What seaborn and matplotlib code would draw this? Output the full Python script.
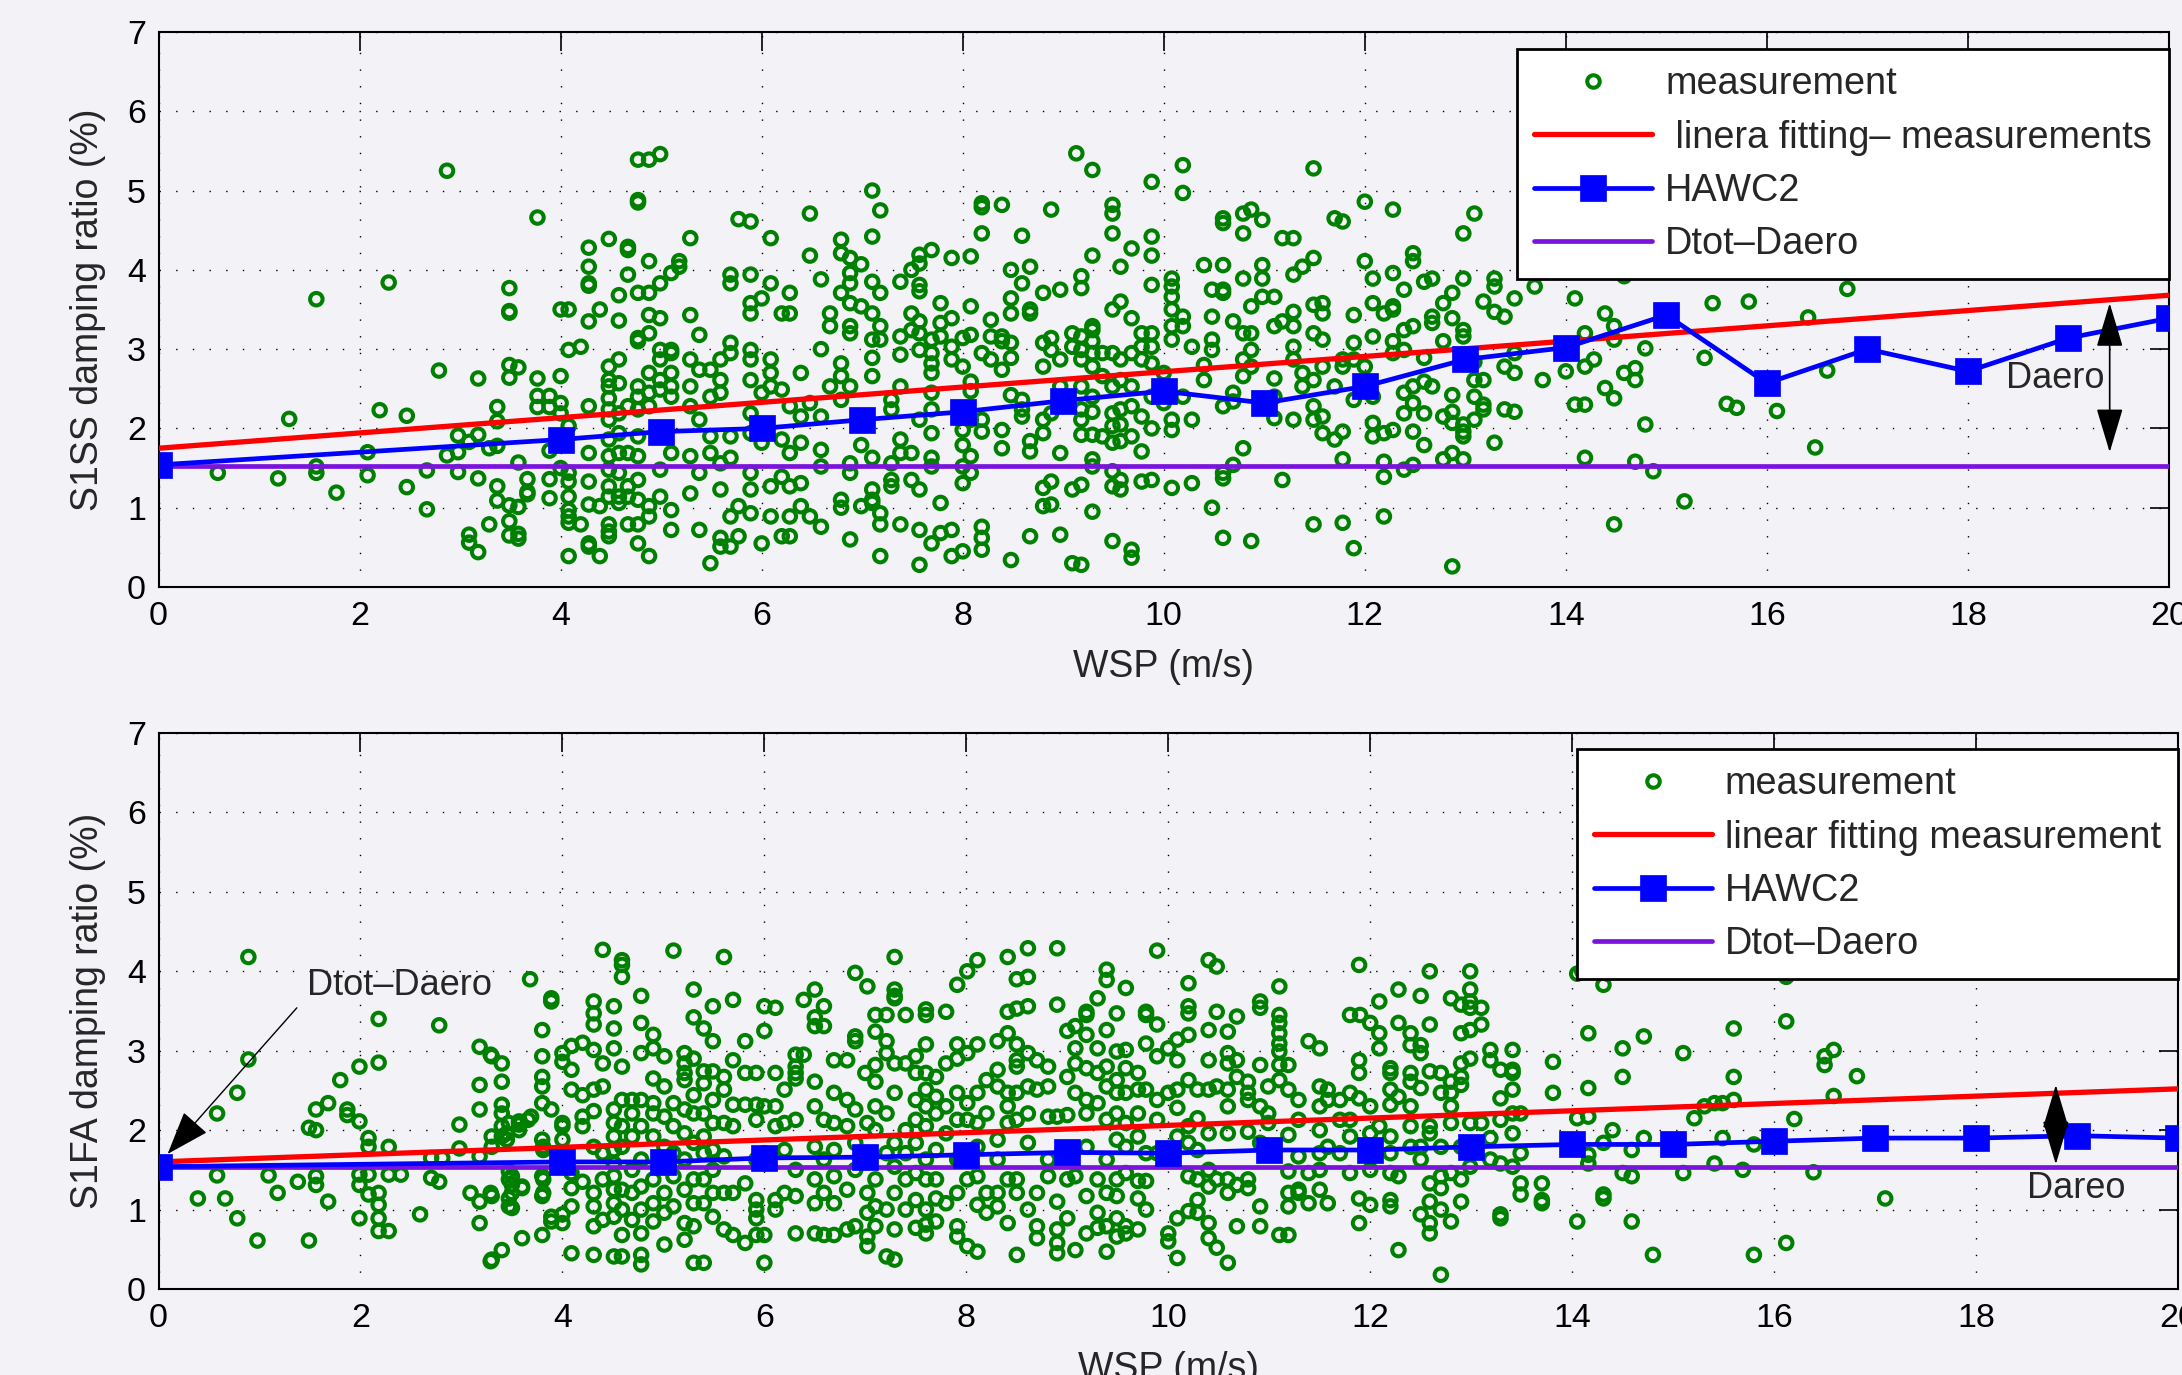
import numpy as np
import pandas as pd
import matplotlib
matplotlib.use("Agg")
import matplotlib.pyplot as plt
from matplotlib.lines import Line2D
import seaborn as sns

# ---------------- data: S1SS (top) measurement, grouped by wind-speed column ----------------
ss_wsp_a = [0.59, 1.19, 1.30, 1.57, 1.77, 2.08, 2.20, 2.29, 2.47, 2.67, 2.79, 2.87, 2.98, 3.09,
            3.18, 3.29, 3.37, 3.49, 3.58, 3.67, 3.77, 3.89]
ss_dmp_a = [[1.44], [1.37], [2.12], [3.63, 1.52, 1.44], [1.19], [1.70, 1.41], [2.23], [3.84],
            [2.16, 1.26], [1.47, 0.98], [2.73], [5.25, 1.66], [1.91, 1.70, 1.45], [1.83, 0.66, 0.56],
            [2.63, 1.92, 1.37, 0.44], [1.75, 0.79], [2.27, 2.09, 1.78, 1.27, 1.09],
            [3.77, 3.48, 3.46, 2.80, 2.64, 1.03, 0.83, 0.65], [2.77, 1.57, 1.01, 0.67, 0.61],
            [1.36, 1.20, 1.17], [4.66, 2.63, 2.41, 2.27], [2.41, 2.27, 1.72, 1.36, 1.12]]

ss_wsp_b = [4.00, 4.08, 4.20, 4.28, 4.39, 4.48, 4.58, 4.67, 4.77, 4.88, 4.99, 5.10, 5.18, 5.29,
            5.38, 5.49, 5.59, 5.69, 5.77, 5.89, 6.00, 6.09, 6.20, 6.28, 6.39, 6.48, 6.59, 6.68]
ss_dmp_b = [[3.50, 2.66, 2.32, 2.19, 1.50],
            [3.50, 2.99, 2.03, 1.44, 1.33, 1.14, 0.97, 0.89, 0.81, 0.39],
            [3.03, 0.79],
            [4.28, 4.04, 3.83, 3.80, 3.35, 2.28, 1.69, 1.33, 1.04, 0.55, 0.51],
            [3.50, 1.02, 0.39],
            [4.39, 2.78, 2.61, 2.53, 2.38, 2.24, 2.11, 1.86, 1.65, 1.48, 1.27, 1.14, 0.79, 0.70, 0.64],
            [3.68, 3.36, 2.87, 2.57, 2.19, 1.94, 1.69, 1.44, 1.14, 1.06],
            [4.29, 4.25, 3.94, 2.28, 1.69, 1.27, 1.14, 0.79],
            [5.39, 4.88, 4.85, 3.71, 3.14, 3.10, 2.53, 2.40, 2.24, 1.90, 1.65, 1.35, 1.10, 0.79, 0.55],
            [5.39, 4.11, 3.71, 3.43, 3.20, 2.70, 2.45, 2.28, 1.02, 0.89, 0.39],
            [5.46, 3.83, 3.39, 2.99, 2.87, 2.61, 2.49, 1.48, 1.14],
            [3.96, 2.99, 2.95, 2.70, 2.53, 2.40, 1.69, 0.97, 0.72],
            [4.11, 4.04],
            [4.40, 3.43, 2.87, 2.53, 2.28, 1.65, 1.18],
            [3.18, 2.74, 2.11, 1.44, 0.72],
            [2.74, 2.40, 1.90, 1.69, 0.30],
            [2.87, 2.61, 2.45, 1.56, 1.23, 0.62, 0.51],
            [3.94, 3.83, 3.08, 2.95, 1.90, 1.63, 0.89, 0.51],
            [4.64, 1.02, 0.64],
            [4.61, 3.94, 3.58, 3.45, 2.99, 2.87, 2.61, 2.19, 1.94, 1.44, 1.23, 0.93],
            [3.64, 2.45, 1.82, 0.55],
            [4.40, 3.83, 2.87, 2.70, 2.53, 1.27, 0.89],
            [3.45, 2.49, 1.86, 1.39, 0.64],
            [3.71, 3.45, 2.28, 1.69, 1.27, 0.89, 0.64],
            [2.70, 2.15, 1.82, 1.31, 1.02],
            [4.71, 4.18, 2.32, 0.89],
            [3.88, 3.00, 2.15, 1.73, 1.52, 0.76],
            [3.45, 3.29, 2.53]]

ss_wsp_c = [6.79, 6.88, 6.99, 7.10, 7.18, 7.29, 7.38, 7.49, 7.57, 7.69, 7.78, 7.89, 8.00, 8.08,
            8.19, 8.28, 8.39, 8.48, 8.59, 8.67, 8.80, 8.88, 8.97, 9.09, 9.13]
ss_dmp_c = [[4.38, 4.21, 3.71, 2.82, 2.66, 2.36, 1.10, 1.00],
            [4.15, 3.96, 3.83, 3.58, 3.29, 3.20, 2.53, 1.56, 1.44, 0.60],
            [4.07, 3.54, 2.07, 1.79, 1.02],
            [5.00, 4.42, 3.85, 3.45, 3.12, 2.89, 2.66, 1.63, 1.23, 1.10, 1.06],
            [4.75, 3.71, 3.29, 3.12, 0.93, 0.79, 0.39],
            [2.36, 2.24, 1.56, 1.35, 1.27],
            [3.85, 3.16, 2.93, 2.53, 1.86, 1.69, 0.79],
            [4.00, 3.45, 3.24, 1.69, 1.35],
            [4.19, 4.08, 3.81, 3.73, 3.35, 3.20, 2.99, 2.11, 1.23, 0.72, 0.28],
            [4.25, 3.12, 2.95, 2.82, 2.70, 2.45, 2.24, 1.94, 1.63, 1.52, 0.55],
            [3.58, 3.33, 3.16, 1.06, 0.68],
            [4.15, 3.39, 3.03, 2.87, 0.72, 0.39],
            [3.14, 2.78, 1.98, 1.79, 1.52, 1.31, 0.45],
            [4.17, 3.54, 3.18, 2.59, 2.47, 2.11, 1.65, 1.44],
            [4.84, 4.79, 4.46, 2.95, 2.11, 1.96, 0.76, 0.62, 0.47],
            [3.37, 3.16, 2.87],
            [4.82, 3.16, 3.10, 2.74, 1.98, 1.75],
            [4.00, 3.64, 3.45, 3.08, 2.89, 2.42, 0.34],
            [4.43, 3.83, 2.36, 2.24, 2.15],
            [4.04, 3.50, 3.45, 1.84, 1.71, 0.64],
            [3.71, 3.08, 2.78, 2.11, 1.94, 1.25, 1.02],
            [4.76, 3.14, 2.99, 2.19, 1.33, 1.04],
            [3.75, 2.87, 2.53, 1.69, 0.66],
            [3.20, 3.03, 1.23, 0.30],
            [5.47]]

ss_wsp_d = [9.18, 9.29, 9.39, 9.49, 9.57, 9.68, 9.78, 9.88, 10.00, 10.08, 10.19, 10.28, 10.40,
            10.48, 10.59, 10.69, 10.79, 10.87, 10.98, 11.10, 11.18, 11.29, 11.38, 11.49, 11.58]
ss_dmp_d = [[3.92, 3.77, 3.16, 2.99, 2.87, 2.53, 2.24, 2.11, 1.92, 1.29, 0.28],
            [5.26, 4.18, 3.29, 3.24, 3.10, 2.95, 2.78, 2.40, 2.21, 1.92, 1.61, 1.52, 0.95],
            [2.95, 2.66, 1.90],
            [4.82, 4.71, 4.46, 3.50, 2.95, 2.53, 2.19, 2.03, 1.82, 1.46, 1.27, 0.58],
            [4.04, 3.60, 2.87, 2.61, 2.24, 2.05, 1.84, 1.35, 1.23],
            [4.27, 3.39, 2.95, 2.53, 2.28, 1.90, 0.47, 0.37],
            [3.20, 3.03, 2.87, 2.15, 1.71, 1.33],
            [5.11, 4.42, 4.18, 3.81, 3.20, 3.03, 2.82, 2.40, 2.00, 1.35],
            [2.70, 2.32],
            [3.89, 3.79, 3.66, 3.50, 3.29, 3.12, 2.11, 1.98, 1.25],
            [5.32, 4.97, 3.41, 3.29, 2.40],
            [3.03, 2.11, 1.31],
            [4.06, 2.80, 2.61],
            [3.75, 3.41, 3.12, 2.99, 1.00],
            [4.65, 4.59, 4.06, 3.75, 3.71, 2.28, 1.44, 1.37, 0.62],
            [3.35, 2.45, 2.34, 1.54],
            [4.71, 4.46, 3.89, 3.20, 2.87, 2.66, 1.75],
            [4.76, 3.54, 3.20, 2.99, 2.78, 0.58],
            [4.63, 4.06, 3.89, 3.66],
            [3.66, 3.29, 2.63, 2.40, 2.13],
            [4.40, 3.35, 1.35],
            [4.40, 3.94, 3.47, 3.29, 3.03, 2.87, 2.11],
            [4.04, 2.70, 2.53],
            [5.28, 4.15, 3.56, 3.20, 2.61, 2.28, 2.11, 0.79],
            [3.58, 3.45, 3.12, 2.78, 2.15, 1.94]]

ss_wsp_e = [11.70, 11.78, 11.89, 12.00, 12.08, 12.19, 12.28, 12.39, 12.48, 12.59, 12.67, 12.78,
            12.87, 12.98, 13.09, 13.18, 13.29, 13.39, 13.49, 13.69, 13.77, 14.00, 14.09, 14.19,
            14.28, 14.39, 14.48, 14.58, 14.69, 14.79, 14.87, 15.18, 15.38, 15.46, 15.60, 15.70,
            15.82, 16.10, 16.41, 16.48, 16.60, 16.80]
ss_dmp_e = [[4.65, 2.53, 1.86], [4.61, 2.87, 2.78, 1.96, 1.61, 0.81], [3.43, 3.08, 2.87, 2.36, 0.49],
            [4.86, 4.11, 2.78, 2.53], [3.89, 3.58, 3.16, 2.40, 2.07, 1.90], [3.45, 1.94, 1.58, 1.39, 0.89],
            [4.76, 3.96, 3.54, 3.50, 3.10, 2.95, 1.98], [3.75, 3.24, 2.99, 2.45, 2.19, 1.48],
            [4.21, 4.11, 3.29, 2.53, 2.32, 1.96, 1.54], [3.85, 2.89, 2.59, 2.19, 1.79],
            [3.89, 3.41, 3.33, 2.53], [3.58, 3.10, 2.15, 1.61], [3.71, 3.39, 2.42, 2.21, 2.07, 1.69, 0.26],
            [4.46, 3.89, 3.24, 3.16, 2.05, 1.96, 1.90, 1.61], [4.71, 2.84, 2.61, 2.40, 2.11],
            [3.60, 2.61, 2.30, 2.24], [3.89, 3.79, 3.47, 1.82], [3.41, 2.78, 2.24], [3.64, 2.95, 2.70, 2.21],
            [3.79], [2.61], [2.72], [3.64, 2.30], [3.20, 2.78, 2.30, 1.63], [2.87], [3.45, 2.51],
            [3.29, 3.12, 2.38, 0.79], [3.92, 2.70], [2.76, 2.61, 1.58], [3.01, 2.05], [1.46], [1.08],
            [2.89], [3.58], [2.31], [2.26], [3.60], [2.22], [3.40], [1.76], [2.73], [3.76]]

# ---------------- data: S1FA (bottom) measurement ----------------
fa_wsp_a = [0.39, 0.58, 0.66, 0.78, 0.89, 0.98, 1.09, 1.18, 1.38, 1.49, 1.56, 1.68, 1.80, 1.87,
            1.99, 2.08, 2.18, 2.28, 2.40, 2.59, 2.70, 2.78, 2.81, 2.98, 3.09, 3.18, 3.29, 3.30,
            3.40, 3.45, 3.47, 3.50, 3.57, 3.60, 3.66, 3.68, 3.69, 3.80, 3.81, 3.89]
fa_dmp_a = [[1.14], [2.21, 1.43], [1.14], [2.47, 0.89], [4.18, 2.89], [0.61], [1.43], [1.21], [1.35],
            [2.03, 0.61], [2.26, 2.00, 1.42, 1.31], [2.34, 1.10], [2.63], [2.26, 2.19],
            [2.80, 2.11, 1.44, 1.31, 0.89], [1.90, 1.79, 1.44, 1.19], [3.40, 2.85, 1.21, 1.06, 0.89, 0.73],
            [1.79, 1.44, 0.73], [1.44], [0.94], [1.65, 1.40], [3.32, 1.35], [1.65], [2.07, 1.77], [1.21],
            [3.05, 2.57, 2.26, 1.67, 1.10, 0.83], [2.95, 1.21, 0.35], [2.93, 1.92, 1.79, 1.17, 0.37],
            [2.84, 2.61, 2.32, 2.21, 2.05, 1.92, 0.49], [1.96, 1.88], [2.09, 1.48, 1.38, 1.14, 1.04],
            [1.42, 1.31, 1.21, 1.02], [2.11, 2.07, 2.00], [1.29, 1.27, 0.64], [2.13], [3.90], [2.17],
            [3.26, 2.93, 2.67, 2.55, 2.34, 1.88, 1.42, 1.17, 0.68], [1.79, 1.75, 1.38, 1.21],
            [3.66, 3.62, 2.26, 0.91, 0.85]]

fa_wsp_b = [4.00, 4.09, 4.20, 4.31, 4.40, 4.51, 4.59, 4.69, 4.78, 4.90, 5.01, 5.10, 5.21, 5.30,
            5.40, 5.49, 5.60, 5.69, 5.81, 5.92, 6.00, 6.11, 6.20, 6.31, 6.39, 6.50, 6.59, 6.69, 6.82]
fa_dmp_b = [[2.97, 2.86, 2.09, 2.05, 1.88, 0.94, 0.83],
            [3.06, 2.76, 2.51, 1.46, 1.27, 1.04, 0.45],
            [3.10, 2.44, 2.17, 2.05, 1.35],
            [3.62, 3.47, 3.33, 3.01, 2.51, 2.24, 1.79, 1.21, 1.04, 0.79, 0.43],
            [4.27, 2.84, 2.55, 1.71, 1.38, 0.87],
            [3.56, 3.28, 3.03, 2.26, 2.09, 1.92, 1.75, 1.58, 1.42, 1.25, 1.08, 0.91, 0.41],
            [4.14, 4.08, 3.93, 2.80, 2.38, 2.05, 1.79, 1.25, 1.00, 0.68, 0.41],
            [2.38, 2.21, 1.92, 1.50, 1.21, 0.87],
            [3.69, 3.35, 2.97, 2.38, 2.05, 1.63, 1.29, 1.00, 0.70, 0.43, 0.31],
            [3.20, 3.03, 2.65, 2.34, 2.21, 1.92, 1.38, 1.08, 0.85],
            [2.93, 2.55, 2.17, 1.79, 1.54, 1.21, 0.96, 0.56],
            [4.26, 2.34, 2.05, 1.71, 1.42, 1.04],
            [2.97, 2.84, 2.72, 2.63, 2.26, 1.96, 1.63, 1.25, 0.83, 0.62],
            [3.77, 3.42, 2.90, 2.44, 2.21, 1.84, 1.38, 1.08, 0.79, 0.33],
            [3.28, 2.74, 2.59, 2.21, 1.92, 1.71, 1.38, 1.08, 0.33],
            [3.56, 3.12, 2.74, 2.38, 2.09, 1.75, 1.50, 1.21, 0.91],
            [4.18, 2.67, 2.51, 2.09, 1.67, 1.21, 0.75],
            [3.64, 2.88, 2.32, 2.05, 1.21, 0.68],
            [3.12, 2.72, 2.32, 1.33, 0.58],
            [2.72, 2.32, 2.13, 1.63, 1.12, 1.00, 0.89, 0.68],
            [3.56, 3.25, 2.30, 1.71, 0.68, 0.33],
            [3.54, 2.72, 2.30, 2.05, 1.12, 1.00],
            [2.51, 2.09, 1.75, 1.21],
            [2.95, 2.80, 2.72, 2.65, 2.13, 1.50, 1.17, 0.70],
            [3.64, 2.95],
            [3.77, 3.42, 3.31, 2.61, 2.30, 1.79, 1.38, 1.08, 0.70],
            [3.56, 3.31, 2.13, 1.63, 1.21, 0.68],
            [2.88, 2.47, 2.09, 1.75, 1.42, 1.08, 0.68],
            [2.88, 2.38, 2.05, 1.25, 0.75]]

fa_wsp_c = [6.90, 7.00, 7.02, 7.10, 7.21, 7.29, 7.40, 7.50, 7.60, 7.70, 7.80, 7.91, 8.01, 8.11,
            8.20, 8.31, 8.41, 8.50, 8.61, 8.70, 8.81, 8.90, 9.00, 9.08]
fa_dmp_c = [[3.98, 3.18, 3.12, 2.26, 1.84, 1.50, 0.79],
            [2.72],
            [3.81, 2.09, 1.63, 1.21, 0.96, 0.66, 0.54],
            [3.45, 3.24, 2.82, 2.61, 2.30, 2.00, 1.38, 1.04, 0.79],
            [3.45, 3.12, 2.97, 2.21, 1.71, 1.00, 0.41],
            [4.18, 3.77, 3.69, 3.66, 2.84, 2.47, 1.84, 1.54, 1.21, 0.75, 0.37],
            [3.45, 2.84, 2.00, 1.71, 1.38, 1.00],
            [2.93, 2.72, 2.38, 2.13, 1.84, 1.46, 1.12, 0.77],
            [3.52, 3.45, 3.08, 2.72, 2.51, 2.30, 2.05, 1.63, 1.38, 1.00, 0.81, 0.70],
            [2.67, 2.42, 2.21, 1.75, 1.38, 1.14, 0.85],
            [3.49, 2.84, 2.30, 1.96, 1.08],
            [3.83, 3.08, 2.90, 2.47, 2.13, 1.63, 1.21, 0.79, 0.66],
            [4.00, 2.97, 2.34, 2.13, 1.38, 0.54],
            [4.14, 3.08, 2.47, 2.09, 1.79, 1.42, 1.06, 0.47],
            [2.63, 2.21, 1.21, 0.96],
            [3.12, 2.76, 2.55, 1.88, 1.63, 1.21, 1.04],
            [4.18, 3.49, 3.22, 2.47, 2.30, 2.09, 1.38, 0.83],
            [3.90, 3.53, 3.08, 2.88, 2.80, 2.47, 2.13, 1.38, 1.21, 0.43],
            [4.29, 3.93, 3.56, 2.97, 2.55, 2.21, 1.84, 1.00],
            [2.88, 2.51, 1.21, 0.79, 0.64],
            [2.80, 2.55, 2.17, 1.63, 1.42],
            [4.29, 3.58, 2.17, 1.10, 0.75, 0.58, 0.45],
            [3.25, 2.67, 2.19, 1.38, 0.89],
            [3.31, 3.03, 2.84, 2.47, 1.42, 0.49]]

fa_wsp_d = [9.19, 9.30, 9.39, 9.49, 9.58, 9.70, 9.78, 9.89, 10.00, 10.09, 10.20, 10.29, 10.40,
            10.48, 10.59, 10.68, 10.79, 10.91, 10.99, 11.10, 11.19, 11.29, 11.39, 11.50, 11.58]
fa_dmp_d = [[3.49, 3.45, 3.20, 2.78, 2.38, 2.21, 1.79, 1.17, 0.70],
            [3.66, 3.03, 2.72, 2.34, 1.38, 0.96, 0.77],
            [4.02, 3.89, 3.26, 2.80, 2.55, 2.13, 1.63, 1.21, 0.79, 0.47],
            [3.47, 2.99, 2.63, 2.47, 2.21, 1.88, 1.38, 1.17, 0.89, 0.66],
            [3.79, 3.01, 2.78, 2.47, 2.09, 1.79, 1.46, 0.79, 0.70],
            [2.72, 2.51, 2.21, 1.92, 1.36, 1.14, 0.75],
            [3.49, 3.45, 3.09, 2.51, 1.71, 1.36, 1.00],
            [4.26, 3.33, 2.93, 2.38, 2.13, 1.71],
            [3.03, 2.47, 0.70, 0.60],
            [3.14, 2.88, 2.51, 2.28, 1.92, 0.89, 0.39],
            [3.85, 3.56, 3.47, 3.20, 2.63, 2.05, 1.84, 1.42, 0.98],
            [2.51, 2.15, 1.75, 1.38, 1.12, 0.96],
            [4.14, 3.26, 2.88, 2.51, 1.96, 1.50, 1.29, 0.83, 0.64],
            [4.06, 3.49, 2.55, 1.38, 0.52],
            [3.24, 2.97, 2.84, 2.51, 2.30, 1.96, 1.38, 1.21, 0.33],
            [3.43, 2.88, 2.67, 1.31, 0.79],
            [2.61, 2.47, 2.38, 1.98, 1.38, 1.27],
            [3.62, 3.54, 2.82, 2.30, 1.84, 1.04, 0.79],
            [2.55, 2.21, 2.09],
            [3.81, 3.45, 3.35, 3.22, 3.09, 2.99, 2.82, 2.63, 0.68],
            [2.82, 2.51, 1.94, 1.48, 1.21, 1.04, 0.68],
            [2.38, 2.13, 1.67, 1.25, 1.21],
            [3.12, 1.46, 1.08],
            [3.03, 2.55, 2.30, 2.00, 1.71, 1.50, 1.25],
            [2.51, 2.38, 1.79, 1.08]]

fa_wsp_e = [11.70, 11.80, 11.89, 11.90, 12.00, 12.09, 12.20, 12.28, 12.40, 12.50, 12.59, 12.70,
            12.80, 12.90, 12.99, 13.10, 13.19, 13.29, 13.41, 13.49, 13.70, 13.81, 14.05, 14.10,
            14.16, 14.31, 14.35, 14.40, 14.50, 14.59, 14.71, 14.80, 15.10, 15.21, 15.31, 15.41,
            15.49, 15.60, 15.69, 15.80, 16.12, 16.20, 16.30, 16.39, 16.50, 16.59, 16.82, 17.10]
fa_dmp_e = [[2.38, 2.13, 1.71], [3.45, 2.47, 2.13, 1.92, 1.46], [4.08, 2.88, 2.72, 2.40, 1.14, 0.83],
            [3.45], [3.35, 2.30, 1.96, 1.50, 1.06], [3.62, 3.22, 3.03, 2.05],
            [2.78, 2.72, 2.51, 2.32, 1.92, 1.71, 1.46, 1.12, 1.04], [3.77, 3.35, 2.42, 1.42, 0.49],
            [3.22, 3.07, 2.72, 2.61, 2.30, 2.05, 1.79], [3.69, 3.07, 2.97, 2.53, 1.79, 1.63, 0.94],
            [4.00, 3.33, 2.74, 2.05, 1.96, 1.33, 1.10, 0.83, 0.70], [2.72, 2.47, 1.79, 1.42, 1.27, 1.00, 0.18],
            [3.66, 2.61, 2.47, 2.30, 2.09, 1.46, 0.85], [3.58, 3.22, 2.84, 2.67, 2.57, 1.79, 1.38, 1.10],
            [4.00, 3.77, 3.62, 3.54, 3.26, 2.90, 2.09, 1.54], [3.54, 3.33, 2.09], [3.01, 2.88, 1.90, 1.63],
            [2.76, 2.40, 2.13, 1.58, 0.94, 0.89], [3.01, 2.76, 2.72, 2.51, 2.21, 1.96, 1.54],
            [2.21, 1.71, 1.33, 1.19], [1.33, 1.12, 1.08], [2.86, 2.47], [3.97, 2.15, 0.85], [4.00],
            [3.22, 2.53, 2.17, 1.69, 1.58], [3.83, 1.84, 1.19, 1.14], [3.97], [2.00],
            [3.03, 2.67, 1.46], [1.75, 1.42, 0.85], [3.18, 1.90], [0.43], [2.97, 1.46], [2.15],
            [2.30], [2.34, 1.58], [2.34, 1.90], [3.28, 2.67, 2.38], [1.50], [1.82, 0.43],
            [3.93, 3.37, 0.58], [2.14], [4.02], [1.47], [2.93, 2.82], [3.01, 2.43], [2.68], [1.14]]

# ---------------- HAWC2, fits, Dtot-Daero ----------------
hawc_wsp = [0, 4, 5, 6, 7, 8, 9, 10, 11, 12, 13, 14, 15, 16, 17, 18, 19, 20]
ss_hawc = [1.54, 1.86, 1.96, 2.00, 2.11, 2.21, 2.35, 2.47, 2.32, 2.53, 2.87, 3.02, 3.43, 2.57,
           3.00, 2.72, 3.14, 3.39]
fa_hawc = [1.54, 1.60, 1.60, 1.65, 1.66, 1.69, 1.72, 1.71, 1.75, 1.75, 1.79, 1.82, 1.82, 1.86,
           1.90, 1.90, 1.93, 1.90]
fit_wsp = [0, 20]
ss_fit = [1.75, 3.68]
fa_fit = [1.60, 2.52]
ss_base = [1.53, 1.53]
fa_base = [1.54, 1.54]

ss_labels = ["measurement", " linera fitting\u2013 measurements", "HAWC2", "Dtot\u2013Daero"]
fa_labels = ["measurement", "linear fitting measurement", "HAWC2", "Dtot\u2013Daero"]
x_ticks = [0, 2, 4, 6, 8, 10, 12, 14, 16, 18, 20]
y_ticks = [0, 1, 2, 3, 4, 5, 6, 7]


def expand(cols, vals):
    xs, ys = [], []
    for x, yl in zip(cols, vals):
        xs += [x] * len(yl)
        ys += list(yl)
    return xs, ys


def frame(pairs):
    xs, ys = [], []
    for c, v in pairs:
        a, b = expand(c, v)
        xs += a
        ys += b
    return pd.DataFrame({"wsp": xs, "dmp": ys})


ss_df = frame([(ss_wsp_a, ss_dmp_a), (ss_wsp_b, ss_dmp_b), (ss_wsp_c, ss_dmp_c),
               (ss_wsp_d, ss_dmp_d), (ss_wsp_e, ss_dmp_e)])
fa_df = frame([(fa_wsp_a, fa_dmp_a), (fa_wsp_b, fa_dmp_b), (fa_wsp_c, fa_dmp_c),
               (fa_wsp_d, fa_dmp_d), (fa_wsp_e, fa_dmp_e)])

# ---------------- style ----------------
BG = "#f2f2f7"
GREEN = "#008000"
RED = "#ff0000"
BLUE = "#0000ff"
PURPLE = "#7a14dc"

sns.set_theme(style="white")
plt.rcParams["font.family"] = ["Liberation Sans", "DejaVu Sans"]
plt.rcParams["axes.edgecolor"] = "black"
plt.rcParams["axes.linewidth"] = 1.5

W, H = 2182, 1375
fig = plt.figure(figsize=(W / 100, H / 100), dpi=100, facecolor=BG)


def make_axes(left, right, top, bottom):
    return fig.add_axes([left / W, 1 - bottom / H, (right - left) / W, (bottom - top) / H])


ax1 = make_axes(158.5, 2169, 32, 587)
ax2 = make_axes(158.5, 2178, 733, 1289)

MS_SCAT = 9.0
MEW_SCAT = 2.9
LW_RED, LW_BLUE, LW_PURP = 3.8, 3.4, 3.4
MS_SQ = 19


def draw(ax, df, fit, base, hawc, labels, ylabel, leg_top_frac):
    ax.set_facecolor(BG)
    sns.scatterplot(data=df, x="wsp", y="dmp", ax=ax, marker="o", s=MS_SCAT ** 2, color=GREEN,
                    legend=False, zorder=2)
    pts = ax.collections[-1]
    pts.set_sizes([MS_SCAT ** 2])
    pts.set_facecolor("none")
    pts.set_edgecolor(GREEN)
    pts.set_linewidth(MEW_SCAT)

    sns.lineplot(x=fit_wsp, y=fit, ax=ax, color=RED, legend=False, zorder=3)
    ax.lines[-1].set_linewidth(LW_RED)
    sns.lineplot(x=hawc_wsp, y=hawc, ax=ax, color=BLUE, marker="s", legend=False, zorder=4)
    hl = ax.lines[-1]
    hl.set_linewidth(LW_BLUE)
    hl.set_markersize(MS_SQ)
    hl.set_markerfacecolor(BLUE)
    hl.set_markeredgecolor(BLUE)
    hl.set_markeredgewidth(0.5)
    sns.lineplot(x=fit_wsp, y=base, ax=ax, color=PURPLE, legend=False, zorder=3)
    ax.lines[-1].set_linewidth(LW_PURP)

    ax.set_xlim(0, 20)
    ax.set_ylim(0, 7)
    ax.set_xticks(x_ticks)
    ax.set_yticks(y_ticks)
    ax.tick_params(direction="in", length=14, width=1.2, top=True, right=True,
                   labelsize=24.5, colors="black")
    ax.tick_params(axis="x", pad=10)
    ax.tick_params(axis="y", pad=9)
    ax.grid(True, color="black", linestyle=(0, (1, 11)), linewidth=1.0)
    ax.set_axisbelow(True)
    for s in ax.spines.values():
        s.set_linewidth(1.5)
        s.set_color("black")
    ax.set_xlabel("WSP (m/s)", fontsize=27, labelpad=12)
    ax.set_ylabel(ylabel, fontsize=27, labelpad=15)

    handles = [
        Line2D([], [], linestyle="none", marker="o", markersize=MS_SCAT, markerfacecolor="none",
               markeredgecolor=GREEN, markeredgewidth=MEW_SCAT),
        Line2D([], [], color=RED, lw=LW_RED),
        Line2D([], [], color=BLUE, lw=LW_BLUE, marker="s", markersize=MS_SQ,
               markerfacecolor=BLUE, markeredgecolor=BLUE, markeredgewidth=0.5),
        Line2D([], [], color=PURPLE, lw=LW_PURP),
    ]
    leg = ax.legend(handles, labels, loc="upper right", bbox_to_anchor=(1.0, leg_top_frac),
                    borderaxespad=0, fontsize=27.3, handlelength=3.1, handletextpad=0.35,
                    labelspacing=0.46, borderpad=0.45, fancybox=False, framealpha=1,
                    edgecolor="black", facecolor="white")
    leg.get_frame().set_linewidth(2.0)
    leg.set_zorder(10)


draw(ax1, ss_df, ss_fit, ss_base, ss_hawc, ss_labels, "S1SS damping ratio (%)", 1 - 17 / 555)
draw(ax2, fa_df, fa_fit, fa_base, fa_hawc, fa_labels, "S1FA damping ratio (%)", 1 - 16 / 556)

dbl = "<|-|>,head_length=1.4,head_width=0.42"
# top annotation
ax1.annotate("", xy=(19.41, 3.58), xytext=(19.41, 1.70),
             arrowprops=dict(arrowstyle=dbl, color="black", lw=1.2, mutation_scale=20,
                             shrinkA=0, shrinkB=0), zorder=6)
ax1.text(18.87, 2.63, "Daero", fontsize=26, ha="center", va="center", zorder=6)

# bottom annotations
ax2.annotate("", xy=(18.79, 2.57), xytext=(18.79, 1.57),
             arrowprops=dict(arrowstyle=dbl, color="black", lw=1.2, mutation_scale=20,
                             shrinkA=0, shrinkB=0), zorder=6)
ax2.text(18.99, 1.27, "Dareo", fontsize=26, ha="center", va="center", zorder=6)
ax2.annotate("", xy=(0.09, 1.70), xytext=(1.37, 3.54),
             arrowprops=dict(arrowstyle="-|>,head_length=1.4,head_width=0.5", color="black",
                             lw=1.0, mutation_scale=20, shrinkA=0, shrinkB=0), zorder=6)
ax2.text(2.39, 3.82, "Dtot\u2013Daero", fontsize=26, ha="center", va="center", zorder=6)

fig.savefig("out.png", dpi=100, facecolor=BG)
